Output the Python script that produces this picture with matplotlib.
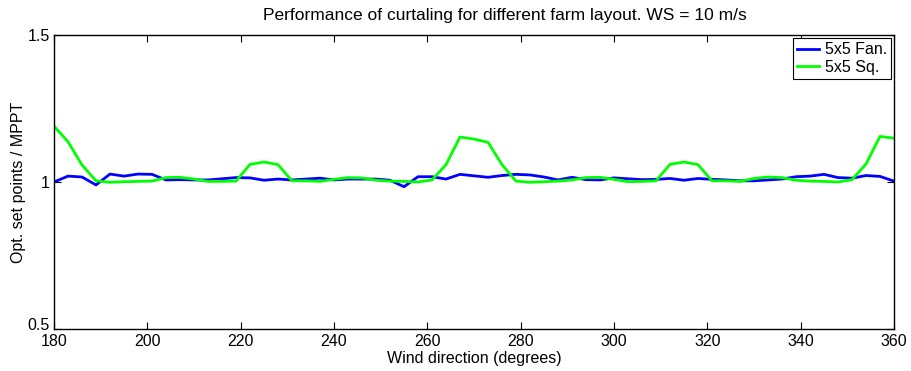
import matplotlib
matplotlib.use("Agg")
import matplotlib.pyplot as plt
import matplotlib.transforms as mtransforms
import numpy as np

plt.rcParams["font.family"] = ["Liberation Sans", "DejaVu Sans"]

wind_dir = np.arange(180, 361, 3)

fan_5x5 = [
    1.000, 1.020, 1.017, 0.990, 1.027, 1.020, 1.027, 1.026, 1.007, 1.008,
    1.007, 1.007, 1.011, 1.015, 1.014, 1.006, 1.010, 1.007, 1.010, 1.013,
    1.007, 1.010, 1.010, 1.010, 1.006, 0.984, 1.018, 1.018, 1.010, 1.026,
    1.021, 1.016, 1.022, 1.026, 1.024, 1.017, 1.007, 1.016, 1.008, 1.007,
    1.014, 1.011, 1.008, 1.009, 1.012, 1.006, 1.012, 1.009, 1.007, 1.004,
    1.004, 1.007, 1.010, 1.018, 1.020, 1.026, 1.015, 1.013, 1.022, 1.019,
    1.003,
]

sq_5x5 = [
    1.190, 1.137, 1.058, 1.004, 0.999, 1.001, 1.002, 1.003, 1.015, 1.016,
    1.010, 1.002, 1.002, 1.003, 1.060, 1.068, 1.059, 1.004, 1.004, 1.002,
    1.009, 1.015, 1.014, 1.006, 1.003, 1.002, 1.000, 1.007, 1.059, 1.153,
    1.146, 1.135, 1.059, 1.003, 0.999, 1.001, 1.003, 1.007, 1.015, 1.016,
    1.009, 1.001, 1.002, 1.004, 1.060, 1.068, 1.059, 1.004, 1.004, 1.002,
    1.012, 1.017, 1.015, 1.006, 1.003, 1.002, 1.000, 1.008, 1.061, 1.155,
    1.149,
]

x_ticks = np.arange(180, 361, 20)
y_ticks = [0.5, 1, 1.5]
y_tick_labels = ["0.5", "1", "1.5"]

fig = plt.figure(figsize=(9.11, 3.71), dpi=100)
ax = fig.add_axes([54 / 911, 42 / 371, 840 / 911, 294 / 371])

ax.plot(wind_dir, fan_5x5, color=(0, 0, 1), linewidth=2, label="5x5 Fan.")
ax.plot(wind_dir, sq_5x5, color=(0, 1, 0), linewidth=2, label="5x5 Sq.")

ax.set_xlim(180, 360)
ax.set_ylim(0.5, 1.5)
ax.set_xticks(x_ticks)
ax.set_yticks(y_ticks)
ax.set_yticklabels(y_tick_labels)
ax.tick_params(direction="in", top=True, right=True, length=5, width=0.8,
               labelsize=11.5)
ax.tick_params(axis="x", pad=3.5)
ax.tick_params(axis="y", pad=3)
for spine in ax.spines.values():
    spine.set_linewidth(1)

# lift the bottom y label a little so it clears the first x label
lift = mtransforms.ScaledTranslation(0, 5 / 100, fig.dpi_scale_trans)
first = ax.get_yticklabels()[0]
first.set_transform(first.get_transform() + lift)

ax.set_xlabel("Wind direction (degrees)", fontsize=11.5, labelpad=1.5)
ax.set_ylabel("Opt. set points / MPPT", fontsize=11.5, labelpad=1)
ax.set_title("Performance of curtaling for different farm layout. WS = 10 m/s",
             fontsize=12.5, pad=11, x=0.537)

leg = ax.legend(loc="upper right", fontsize=11.5, fancybox=False, framealpha=1,
                borderaxespad=0.2, handlelength=1.4, borderpad=0.25,
                labelspacing=0.15, handletextpad=0.35)
leg.get_frame().set_edgecolor("black")
leg.get_frame().set_linewidth(0.8)

fig.savefig("out.png", dpi=100)
